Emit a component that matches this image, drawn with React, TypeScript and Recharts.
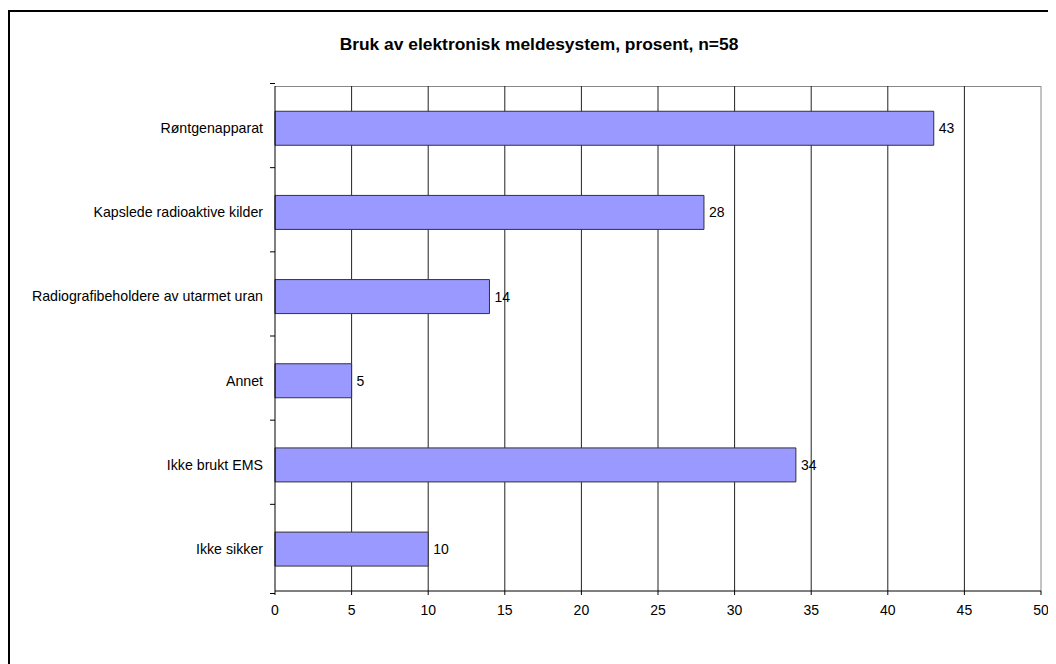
import React from 'react';
import { BarChart, Bar, XAxis, YAxis, CartesianGrid, LabelList, ReferenceLine } from 'recharts';

const categories = [
  'Røntgenapparat',
  'Kapslede radioaktive kilder',
  'Radiografibeholdere av utarmet uran',
  'Annet',
  'Ikke brukt EMS',
  'Ikke sikker',
];
const percentValues = [43, 28, 14, 5, 34, 10];
const xTicks = [0, 5, 10, 15, 20, 25, 30, 35, 40, 45, 50];

const title = 'Bruk av elektronisk meldesystem, prosent, n=58';

const data = categories.map((name, i) => ({ name, value: percentValues[i] }));

const W = 1046;
const H = 652;
const Y_AXIS_W = 255;
const margin = { top: 74, right: 15, left: 10, bottom: 43 };
const FONT = '"Liberation Sans", Arial, sans-serif';
const X_MAX = xTicks[xTicks.length - 1];

const plotLeft = margin.left + Y_AXIS_W;
const plotWidth = W - plotLeft - margin.right;
const band = (H - margin.top - margin.bottom) / categories.length;

const CategoryTick = (props: any) => {
  const { x, y, payload, index } = props;
  const last = index === categories.length - 1;
  return (
    <g>
      <text
        x={x - 12}
        y={y}
        textAnchor="end"
        dominantBaseline="central"
        fontSize={14.2}
        fontFamily={FONT}
        fill="#000"
      >
        {payload.value}
      </text>
      <line x1={x - 5} x2={x} y1={y - band / 2} y2={y - band / 2} stroke="#000" />
      {last && <line x1={x - 5} x2={x} y1={y + band / 2} y2={y + band / 2} stroke="#000" />}
    </g>
  );
};

export default function App() {
  return (
    <div
      style={{
        position: 'relative',
        marginTop: 2,
        width: W,
        height: H,
        borderLeft: '2px solid #000',
        borderTop: '2px solid #000',
        fontFamily: FONT,
      }}
    >
      <div
        style={{
          position: 'absolute',
          left: 0,
          top: 22,
          width: 1058,
          textAlign: 'center',
          fontWeight: 'bold',
          fontSize: 17.4,
          color: '#000',
        }}
      >
        {title}
      </div>
      {/* top edge of the plot area */}
      <div
        style={{
          position: 'absolute',
          left: plotLeft,
          top: margin.top,
          width: plotWidth,
          height: 0,
          borderTop: '1px solid #888',
        }}
      />
      <BarChart
        width={W}
        height={H}
        data={data}
        layout="vertical"
        margin={margin}
        barCategoryGap="30%"
      >
        <CartesianGrid
          horizontal={false}
          stroke="#222"
          verticalCoordinatesGenerator={({ offset }: any) =>
            xTicks.slice(1, -1).map((t) => offset.left + (offset.width * t) / X_MAX)
          }
        />
        <ReferenceLine x={X_MAX} stroke="#888" strokeWidth={1} />
        <XAxis
          type="number"
          domain={[0, X_MAX]}
          ticks={xTicks}
          interval={0}
          stroke="#000"
          tickSize={4}
          tickMargin={10}
          tick={{ fill: '#000', fontSize: 14, fontFamily: FONT }}
          height={30}
        />
        <YAxis
          type="category"
          dataKey="name"
          width={Y_AXIS_W}
          stroke="#000"
          tickSize={0}
          tickMargin={0}
          tickLine={false}
          interval={0}
          tick={<CategoryTick />}
        />
        <Bar dataKey="value" fill="#9999FF" stroke="#333" strokeWidth={1} isAnimationActive={false}>
          <LabelList
            dataKey="value"
            position="right"
            offset={5}
            fill="#000"
            fontSize={14}
            fontFamily={FONT}
          />
        </Bar>
      </BarChart>
    </div>
  );
}
